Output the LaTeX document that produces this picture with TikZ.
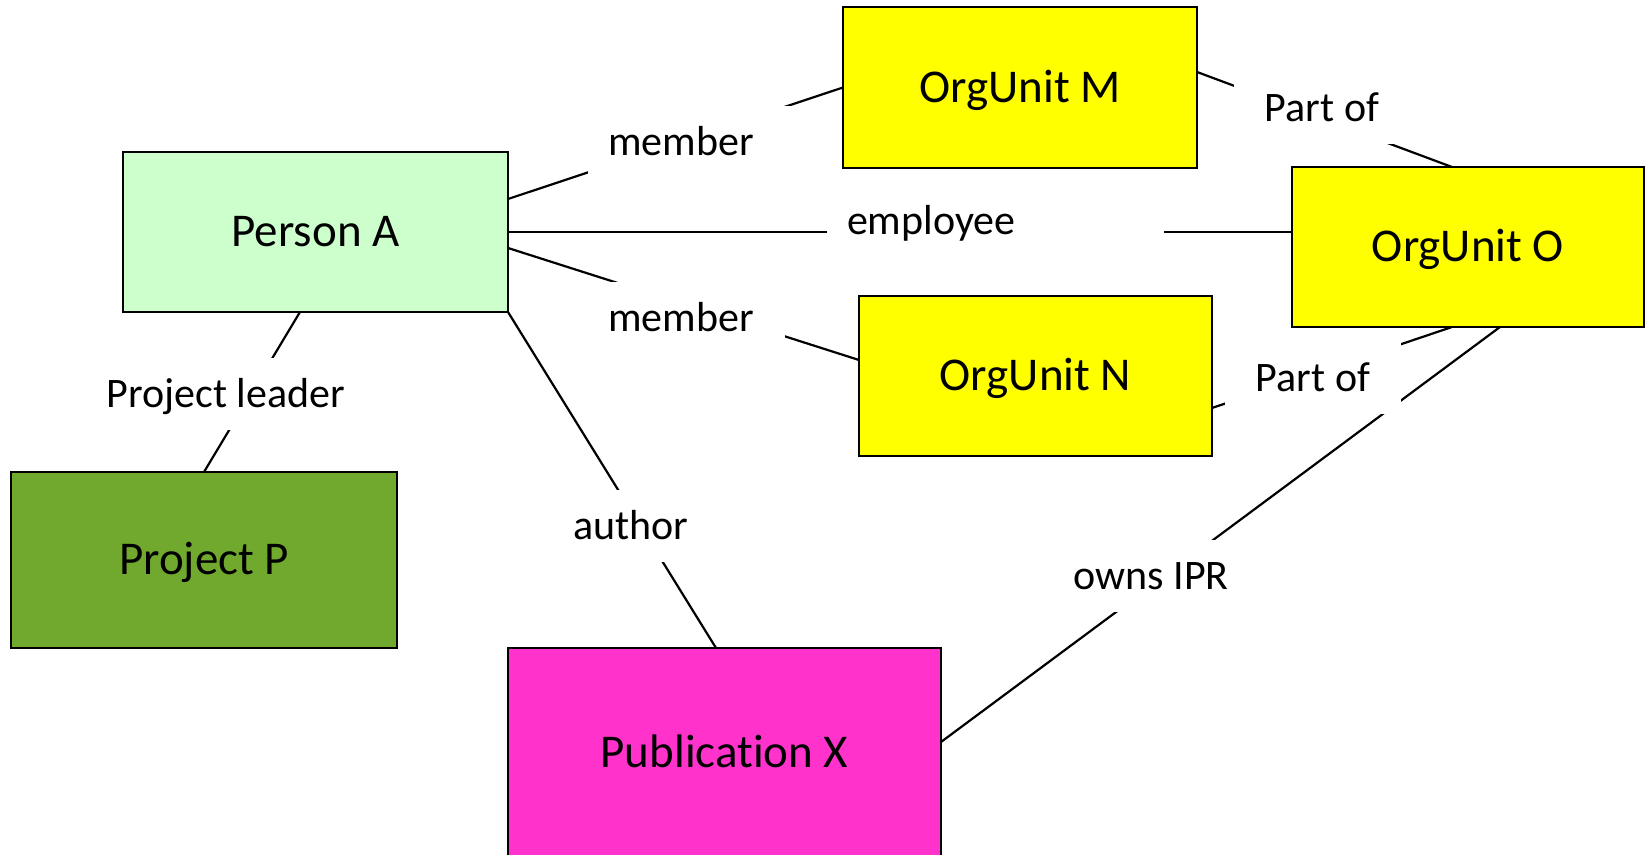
\documentclass[tikz,border=0pt]{standalone}
\usepackage{fontspec}
\setmainfont[Ligatures=NoCommon]{Carlito}
\definecolor{personfill}{HTML}{CCFFCC}
\definecolor{orgfill}{HTML}{FFFF00}
\definecolor{projfill}{HTML}{70A92E}
\definecolor{pubfill}{HTML}{FF33CC}
\begin{document}
\begin{tikzpicture}[x=0.5pt, y=-0.5pt,
  ent/.style={draw, line width=1.3pt, inner sep=0pt, outer sep=0pt, font=\fontsize{23.5}{28}\selectfont, text height=15pt, text depth=0pt},
  rel/.style={fill=white, inner xsep=15.5pt, inner ysep=0pt, minimum height=36pt, font=\fontsize{21}{25}\selectfont, text height=13.5pt, text depth=0pt},
  con/.style={line width=1.1pt}]
  \clip (0,0) rectangle (1646,855);
  % entities
  \node[ent, fill=personfill, minimum width=192.5pt, minimum height=80pt] (pa) at (315.5,232) {Person A};
  \node[ent, fill=orgfill, minimum width=177pt, minimum height=80.5pt] (om) at (1020,87.5) {OrgUnit M};
  \node[ent, fill=orgfill, minimum width=176pt, minimum height=80pt] (oo) at (1468,247) {OrgUnit O};
  \node[ent, fill=orgfill, minimum width=176.5pt, minimum height=80pt] (on) at (1035.5,376) {OrgUnit N};
  \node[ent, fill=projfill, minimum width=193pt, minimum height=88pt] (pp) at (204,560) {Project P};
  \node[ent, fill=pubfill, minimum width=216.5pt, minimum height=105pt] (px) at (724.5,753) {Publication X};
  % relations
  \draw[con] ([yshift=16.5pt]pa.east) -- (om.west);
  \draw[con] (pa.east) -- (pa.east -| oo.west);
  \draw[con] ([yshift=-8pt]pa.east) -- ([yshift=8pt]on.west);
  \draw[con] (pa.south east) -- ([xshift=-4.25pt]px.north);
  \draw[con] ([xshift=-7.75pt]pa.south) -- (pp.north);
  \draw[con] ([yshift=7.75pt]om.east) -- ([xshift=-8pt]oo.north);
  \draw[con] ([yshift=-16pt]on.east) -- ([xshift=-8pt]oo.south);
  \draw[con] ([yshift=5.5pt]px.east) -- ([xshift=16pt]oo.south);
  % labels
  \node[rel, inner xsep=10pt, text width=84pt, align=left] (lm) at (692,142) {member};
  \node[rel] (ln) at (681,318) {member};
  \node[rel, inner xsep=10pt, text width=148.5pt, align=left] (le) at (995.5,221) {employee};
  \node[rel] (lau) at (631,526) {author};
  \node[rel] (lpl) at (226,394) {Project leader};
  \node[rel] (lpm) at (1322,108) {Part of};
  \node[rel] (lpn) at (1313,378) {Part of};
  \node[rel] (lip) at (1151,576) {owns IPR};
\end{tikzpicture}
\end{document}
